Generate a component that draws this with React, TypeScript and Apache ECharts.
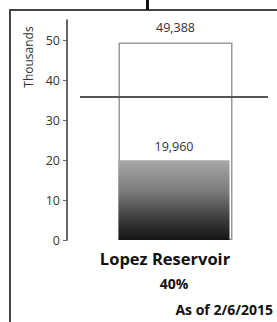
import React, { useEffect, useRef } from "react";
import * as echarts from "echarts";

const categories = ["Lopez Reservoir"];
const capacityValues = [49.388]; // thousands of acre-feet
const storageValues = [19.96];
const averageLevel = 35.75;
const asOfText = "As of 2/6/2015";
const axisName = "Thousands";

const FONT = "'Open Sans', Lato, sans-serif";

export default function App() {
  const ref = useRef<HTMLDivElement>(null);
  useEffect(() => {
    if (!ref.current) return;
    const chart = echarts.init(ref.current, null, { renderer: "svg" });
    const pct = Math.round((storageValues[0] / capacityValues[0]) * 100);
    const fmt = (v: number) => Math.round(v * 1000).toLocaleString("en-US");
    chart.setOption({
      animation: false,
      backgroundColor: "#fff",
      textStyle: { fontFamily: FONT },
      grid: { left: 80, right: 9, top: 20, bottom: 82 },
      xAxis: {
        type: "category",
        data: categories,
        axisLine: { show: false },
        axisTick: { show: false },
        axisLabel: {
          margin: 7,
          formatter: (v: string) => `{a|${v}}\n{b|${pct}%}`,
          rich: {
            a: { fontSize: 16.5, fontWeight: "bold", color: "#111", fontFamily: FONT, lineHeight: 22, padding: [0, 18, 0, 0] },
            b: { fontSize: 14, fontWeight: "bold", color: "#111", fontFamily: FONT, lineHeight: 29, padding: [0, 0, 0, 0] },
          },
        },
      },
      yAxis: {
        type: "value",
        min: 0,
        max: 55,
        interval: 10,
        offset: 13,
        splitLine: { show: false },
        axisLine: { show: true, lineStyle: { color: "#333", width: 1.5 } },
        axisTick: { show: true, length: 4, lineStyle: { color: "#666" } },
        axisLabel: {
          showMaxLabel: false,
          color: "#333",
          fontSize: 12.5,
          margin: 7,
          fontFamily: FONT,
        },
      },
      series: [
        {
          type: "bar",
          data: capacityValues,
          barWidth: 114,
          itemStyle: { color: "#fff", borderColor: "#999", borderWidth: 1.5 },
          label: {
            show: true,
            position: "top",
            distance: 8,
            color: "#333",
            fontSize: 12.5,
            fontFamily: FONT,
            formatter: (p: any) => fmt(p.value),
          },
          z: 2,
        },
        {
          type: "bar",
          data: storageValues,
          barWidth: 111,
          barGap: "-100%",
          itemStyle: {
            color: new echarts.graphic.LinearGradient(0, 0, 0, 1, [
              { offset: 0, color: "#a8a8a8" },
              { offset: 0.4, color: "#7a7a7a" },
              { offset: 0.75, color: "#3a3a3a" },
              { offset: 1, color: "#151515" },
            ]),
          },
          label: {
            show: true,
            position: "top",
            distance: 7,
            color: "#333",
            fontSize: 12.5,
            fontFamily: FONT,
            formatter: (p: any) => fmt(p.value),
          },
          markLine: {
            silent: true,
            symbol: "none",
            label: { show: false },
            lineStyle: { color: "#555", width: 2, type: "solid" },
            data: [{ yAxis: averageLevel }],
          },
          z: 3,
        },
      ],
      graphic: [
        { type: "line", shape: { x1: 10, y1: 10, x2: 277, y2: 10 }, style: { stroke: "#444", lineWidth: 2 } },
        { type: "line", shape: { x1: 10, y1: 9, x2: 10, y2: 322 }, style: { stroke: "#444", lineWidth: 2 } },
        { type: "rect", shape: { x: 146, y: 0, width: 3, height: 10 }, style: { fill: "#111" } },
        {
          type: "text",
          x: 28,
          y: 57,
          rotation: Math.PI / 2,
          style: { text: axisName, fill: "#333", fontSize: 12, fontFamily: FONT, align: "center", verticalAlign: "middle" },
        },
        {
          type: "text",
          right: 4,
          top: 302,
          style: { text: asOfText, fill: "#111", fontSize: 14, fontWeight: "bold", fontFamily: FONT },
        },
      ],
    });
    return () => chart.dispose();
  }, []);
  return <div ref={ref} style={{ position: "fixed", left: 0, top: 0, width: 277, height: 322 }} />;
}
